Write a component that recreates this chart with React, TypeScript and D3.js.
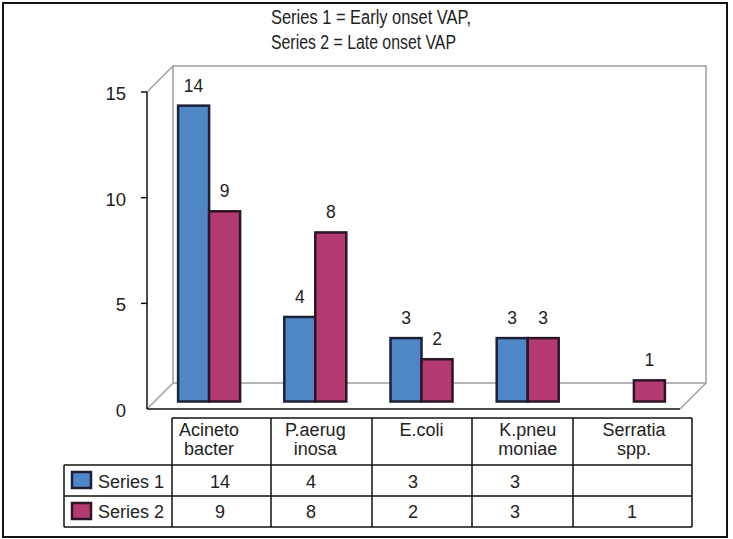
import React from "react";
import * as d3 from "d3";

const categories = ["Acinetobacter", "P.aeruginosa", "E.coli", "K.pneumoniae", "Serratia spp."];
const headerLines = [["Acineto", "bacter"], ["P.aerug", "inosa"], ["E.coli"], ["K.pneu", "moniae"], ["Serratia", "spp."]];
const series1: (number | null)[] = [14, 4, 3, 3, null];
const series2: (number | null)[] = [9, 8, 2, 3, 1];
const seriesNames = ["Series 1", "Series 2"];
const yTicks = [0, 5, 10, 15];
const titleLines = ["Series 1 = Early onset VAP,", "Series 2 = Late onset VAP"];

const FONT = "'Liberation Sans', Arial, Helvetica, sans-serif";
const FILLS = ["#4f86c6", "#b33b72"];
const STROKES = ["#1c2235", "#2d1426"];
const GRAY = "#a3a3a3";

export default function App() {
  const W = 733, H = 539;
  const depth = 26;
  const x0 = 147, x1 = 680; // front floor
  const yFront = d3.scaleLinear().domain([0, 15]).range([409, 92]);
  const barShift = 7.5;
  const yBar = d3.scaleLinear().domain([0, 15]).range([409 - barShift, 92 - barShift]);
  const xBand = d3.scaleBand<string>().domain(categories).range([x0 + 9, x1 + 7]).padding(0);
  const barW = 31;

  const colEdges = [172, 271, 372, 472, 573, 692];
  const valueX = [220, 311, 413, 515, 632];
  const tableTop = 418, headBottom = 465, rowMid = 496, tableBottom = 527;
  const legendLeft = 64;

  const seriesData = [series1, series2];

  return (
    <svg width={W} height={H} style={{ position: "absolute", left: 0, top: 0, background: "#fff" }} fontFamily={FONT}>
      <rect x={3} y={3} width={724} height={534} fill="#fff" stroke="#111" strokeWidth={2} />
      {/* title */}
      {titleLines.map((t, i) => (
        <text key={i} x={271} y={24 + i * 25} fontSize={20} fill="#222" textLength={i === 0 ? 200 : 185} lengthAdjust="spacingAndGlyphs">{t}</text>
      ))}
      {/* 3D walls */}
      <g fill="none" stroke={GRAY} strokeWidth={1.6}>
        <rect x={x0 + depth} y={yFront(15) - depth} width={x1 - x0} height={yFront(0) - yFront(15)} />
        <line x1={x0} y1={yFront(15)} x2={x0 + depth} y2={yFront(15) - depth} />
        <line x1={x0} y1={yFront(0)} x2={x0 + depth} y2={yFront(0) - depth} />
        <line x1={x1} y1={yFront(0)} x2={x1 + depth} y2={yFront(0) - depth} />
      </g>
      {/* axis */}
      <g stroke="#111" strokeWidth={1.5}>
        <line x1={x0} y1={yFront(15)} x2={x0} y2={yFront(0)} />
        <line x1={x0} y1={yFront(0)} x2={x1} y2={yFront(0)} />
        {yTicks.filter(v => v > 0).map(v => (
          <line key={v} x1={x0 - 6} y1={yFront(v)} x2={x0} y2={yFront(v)} />
        ))}
      </g>
      {yTicks.map(v => (
        <text key={v} x={126} y={yFront(v) + 3} fontSize={18.5} textAnchor="end" dominantBaseline="middle" fill="#222">{v}</text>
      ))}
      {/* bars */}
      {categories.map((c, ci) => {
        const cx = (xBand(c) as number) + xBand.bandwidth() / 2;
        return seriesData.map((s, si) => {
          const v = s[ci];
          if (v == null) return null;
          const bx = cx - barW + si * barW;
          return (
            <g key={c + si}>
              <rect x={bx} y={yBar(v)} width={barW} height={yBar(0) - yBar(v)} fill={FILLS[si]} stroke={STROKES[si]} strokeWidth={2.5} />
              <text x={bx + barW / 2} y={yBar(v) - 14} fontSize={17.5} textAnchor="middle" fill="#222">{v}</text>
            </g>
          );
        });
      })}
      {/* data table */}
      <g stroke="#111" strokeWidth={1.5}>
        <line x1={colEdges[0]} y1={tableTop} x2={colEdges[5]} y2={tableTop} />
        <line x1={legendLeft} y1={headBottom} x2={colEdges[5]} y2={headBottom} />
        <line x1={legendLeft} y1={rowMid} x2={colEdges[5]} y2={rowMid} />
        <line x1={legendLeft} y1={tableBottom} x2={colEdges[5]} y2={tableBottom} />
        <line x1={legendLeft} y1={headBottom} x2={legendLeft} y2={tableBottom} />
        {colEdges.map((e, i) => (
          <line key={i} x1={e} y1={tableTop} x2={e} y2={tableBottom} />
        ))}
      </g>
      {categories.map((c, ci) => {
        const cx = (xBand(c) as number) + xBand.bandwidth() / 2;
        return (
          <text key={c} fontSize={18} textAnchor="middle" fill="#222">
            {headerLines[ci].map((l, li) => (
              <tspan key={li} x={cx} y={436 + li * 19}>{l}</tspan>
            ))}
          </text>
        );
      })}
      {seriesData.map((s, si) => (
        <g key={si}>
          <rect x={72} y={(si === 0 ? headBottom : rowMid) + 7} width={19} height={16} fill={FILLS[si]} stroke={STROKES[si]} strokeWidth={2.5} />
          <text x={98} y={488 + si * 30} fontSize={18} fill="#222">{seriesNames[si]}</text>
          {s.map((v, ci) => v == null ? null : (
            <text key={ci} x={valueX[ci]} y={488 + si * 30} fontSize={18} textAnchor="middle" fill="#222">{v}</text>
          ))}
        </g>
      ))}
    </svg>
  );
}
